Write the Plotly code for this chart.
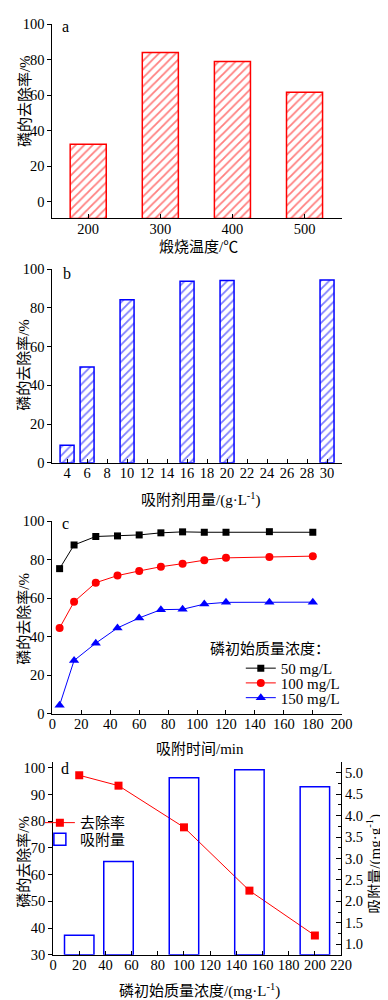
import plotly.graph_objects as go

W, H = 388, 1000
def px(x): return x / W
def py(y): return 1 - y / H

# ---- data ----
# panel a
calc_temp = [200, 300, 400, 500]
removal_a = [32.3, 84.0, 79.0, 61.6]
# panel b
dose = [4, 6, 10, 16, 20, 30]
removal_b = [9.0, 49.5, 84.2, 93.8, 94.2, 94.4]
dose_ticks = [4, 6, 8, 10, 12, 14, 16, 18, 20, 22, 24, 26, 28, 30]
# panel c
time_min = [5, 15, 30, 45, 60, 75, 90, 105, 120, 150, 180]
rem_50 = [75.3, 87.6, 92.0, 92.3, 92.8, 93.9, 94.4, 94.2, 94.2, 94.5, 94.2]
rem_100 = [44.5, 58.1, 68.0, 71.7, 74.1, 76.3, 77.9, 79.7, 80.9, 81.4, 81.8]
rem_150 = [4.4, 27.6, 36.6, 44.5, 49.7, 54.0, 54.2, 56.9, 57.8, 57.8, 57.9]
series_c = ["50 mg/L", "100 mg/L", "150 mg/L"]
# panel d
conc = [20, 50, 100, 150, 200]
removal_d = [97.2, 93.3, 77.7, 54.0, 37.2]
capacity_d = [1.21, 2.93, 4.88, 5.07, 4.67]

RED = "#ff0000"
BLUE = "#0000ff"
FONT = "Liberation Serif, Noto Sans CJK SC, serif"
TICKF = dict(family=FONT, size=14.5, color="black")

YA_MIN, YA_MAX = -9.4, 100
YD_MIN, YD_MAX = 30, 102.1
YR_MIN, YR_MAX = 0.755, 5.245

fig = go.Figure()

# panel a bars
fig.add_trace(go.Bar(
    x=calc_temp, y=[v - YA_MIN for v in removal_a], base=YA_MIN, width=50,
    marker=dict(color="white", line=dict(color=RED, width=1.5),
                pattern=dict(shape="/", fgcolor=RED, bgcolor="white", size=6, solidity=0.3)),
    xaxis="x", yaxis="y", showlegend=False))

# panel b bars
fig.add_trace(go.Bar(
    x=dose, y=removal_b, width=1.4,
    marker=dict(color="white", line=dict(color=BLUE, width=1.5),
                pattern=dict(shape="/", fgcolor=BLUE, bgcolor="white", size=6, solidity=0.3)),
    xaxis="x2", yaxis="y2", showlegend=False))

# panel c lines (each entry in its own legend box so rows can sit close together)
for name, ys, col, sym, sz, lg in [(series_c[0], rem_50, "black", "square", 7, "legend"),
                                   (series_c[1], rem_100, RED, "circle", 8, "legend3"),
                                   (series_c[2], rem_150, BLUE, "triangle-up", 9, "legend4")]:
    fig.add_trace(go.Scatter(
        x=time_min, y=ys, name=name, mode="lines+markers",
        line=dict(color=col, width=1), marker=dict(symbol=sym, size=sz, color=col),
        xaxis="x3", yaxis="y3", legend=lg, cliponaxis=False))

# panel d
fig.add_trace(go.Bar(
    x=conc, y=[v - YR_MIN for v in capacity_d], base=YR_MIN, width=22.5, name="吸附量",
    marker=dict(color="rgba(0,0,0,0)", line=dict(color=BLUE, width=1.5)),
    xaxis="x4", yaxis="y5", legend="legend5"))
fig.add_trace(go.Scatter(
    x=conc, y=removal_d, name="去除率", mode="lines+markers",
    line=dict(color=RED, width=1), marker=dict(symbol="square", size=8, color=RED),
    xaxis="x4", yaxis="y4", legend="legend2", cliponaxis=False))

xdom = [px(42), px(343)]
common_x = dict(showline=True, linecolor="black", linewidth=1, ticks="inside", ticklen=4,
                tickcolor="black", tickfont=TICKF, showgrid=False, zeroline=False, mirror=False,
                ticklabelstandoff=-3)
common_y = dict(showline=True, linecolor="black", linewidth=1, ticks="outside", ticklen=4,
                tickcolor="black", tickfont=TICKF, showgrid=False, zeroline=False)

def leg(x, y):
    return dict(x=px(x), y=py(y), xanchor="left", yanchor="middle",
                bgcolor="rgba(0,0,0,0)", font=dict(family=FONT, size=15, color="black"),
                tracegroupgap=0)

layout = dict(
    width=W, height=H, margin=dict(l=0, r=0, t=0, b=0),
    paper_bgcolor="white", plot_bgcolor="white",
    font=dict(family=FONT, size=14, color="black"),
    barmode="overlay",
    xaxis=dict(domain=xdom, anchor="y", range=[150.3, 551.6], tickvals=calc_temp, **common_x),
    yaxis=dict(domain=[py(205.7), py(8.3)], anchor="x", range=[YA_MIN, YA_MAX],
               tickvals=[0, 20, 40, 60, 80, 100], **common_y),
    xaxis2=dict(domain=xdom, anchor="y2", range=[2.53, 31.47], tickvals=dose_ticks, **common_x),
    yaxis2=dict(domain=[py(454), py(257.3)], anchor="x2", range=[0, 100],
                tickvals=[0, 20, 40, 60, 80, 100], **common_y),
    xaxis3=dict(domain=xdom, anchor="y3", range=[0, 200], dtick=20, **common_x),
    yaxis3=dict(domain=[py(709), py(513.3)], anchor="x3", range=[0, 100],
                tickvals=[0, 20, 40, 60, 80, 100], **common_y),
    xaxis4=dict(domain=[px(42.7), px(342.3)], anchor="y4", range=[0, 220], dtick=20, **common_x),
    yaxis4=dict(domain=[py(954), py(758.3)], anchor="x4", range=[YD_MIN, YD_MAX],
                tickvals=[30, 40, 50, 60, 70, 80, 90, 100], **common_y),
    yaxis5=dict(overlaying="y4", side="right", anchor="x4", range=[YR_MIN, YR_MAX],
                tickmode="linear", tick0=1.0, dtick=0.5, tickformat=".1f",
                showline=True, linecolor="black", linewidth=1, ticks="inside", ticklen=5,
                tickcolor="black", tickfont=TICKF, showgrid=False, zeroline=False,
                minor=dict(ticks="inside", ticklen=3, dtick=0.25, tick0=1.0, tickcolor="black")),
    legend=leg(238, 663),
    legend3=leg(238, 678),
    legend4=leg(238, 693),
    legend2=leg(29, 820),
    legend5=leg(29, 837),
)
fig.update_layout(**layout)

ann = []
def A(text, x, y, size=15, angle=0, xanchor="center"):
    ann.append(dict(text=text, x=px(x), y=py(y), xref="paper", yref="paper",
                    showarrow=False, textangle=angle, xanchor=xanchor, yanchor="middle",
                    font=dict(family=FONT, size=size, color="black")))

# panel letters
A("a", 50, 11, size=16, xanchor="left")
A("b", 51, 262, size=16, xanchor="left")
A("c", 50, 516, size=16, xanchor="left")
A("d", 49, 765, size=16, xanchor="left")
# y titles
for yc in [86, 354, 612, 859]:
    A("磷的去除率/%", 13, yc, angle=-90)
A("吸附量/(mg·g<sup>-1</sup>)", 376, 861, angle=-90)
# x titles
A("煅烧温度/℃", 194, 235)
A("吸附剂用量/(g·L<sup>-1</sup>)", 197, 491)
A("吸附时间/min", 196, 745)
A("磷初始质量浓度/(mg·L<sup>-1</sup>)", 195, 990)
# legend title for panel c
A("磷初始质量浓度：", 204, 643, xanchor="left")

fig.update_layout(annotations=ann)
fig.write_html("out.html")
